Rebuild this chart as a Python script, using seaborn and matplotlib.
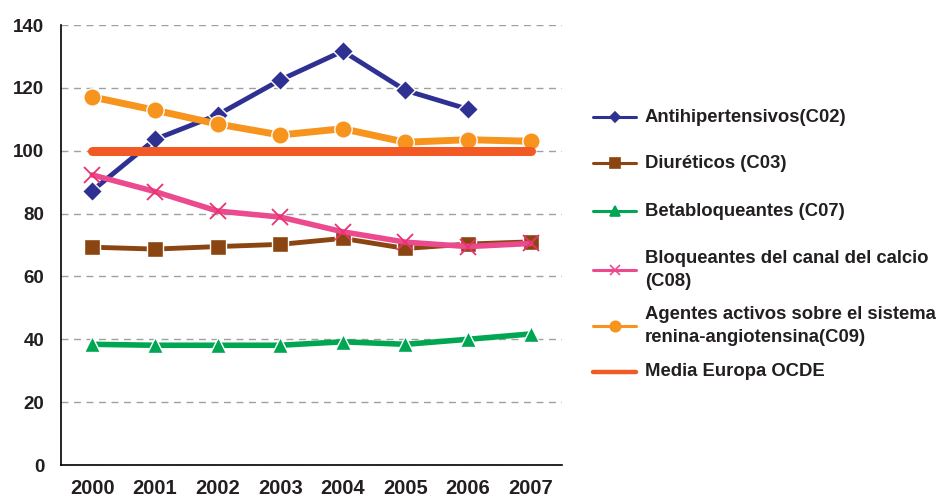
import numpy as np
import pandas as pd
import matplotlib
matplotlib.use("Agg")
import matplotlib.pyplot as plt
from matplotlib.lines import Line2D
import seaborn as sns

years = ["2000", "2001", "2002", "2003", "2004", "2005", "2006", "2007"]

antihipertensivos = [87.3, 103.6, 111.4, 122.5, 131.7, 119.2, 113.2, np.nan]
diureticos = [69.3, 68.7, 69.5, 70.2, 72.1, 68.9, 70.3, 71.0]
betabloqueantes = [38.4, 38.1, 38.1, 38.1, 39.2, 38.4, 40.0, 41.7]
bloq_calcio = [92.3, 87.0, 80.8, 78.9, 74.2, 70.9, 69.5, 70.5]
agentes_ras = [117.1, 112.9, 108.5, 105.0, 107.0, 102.7, 103.5, 103.0]
media_ocde = [100, 100, 100, 100, 100, 100, 100, 100]

labels = [
    "Antihipertensivos(C02)",
    "Diuréticos (C03)",
    "Betabloqueantes (C07)",
    "Bloqueantes del canal del calcio\n(C08)",
    "Agentes activos sobre el sistema\nrenina-angiotensina(C09)",
    "Media Europa OCDE",
]

sns.set_style("white")
plt.rcParams["font.family"] = ["Liberation Sans", "DejaVu Sans"]
plt.rcParams["font.weight"] = "bold"
TXT = "#231F20"

# color, marker, markersize, linewidth, marker edge, legend marker size
styles = [
    ("#2E3192", "D", 10, 3.5, "white", 5.5),
    ("#8B4510", "s", 12, 3.5, "white", 6.5),
    ("#00A651", "^", 11, 4, "white", 7),
    ("#EC4A8F", "x", 12, 4, "#E8336E", 7),
    ("#F7941D", "o", 12.5, 5, "white", 7.5),
    ("#F15A24", None, 0, 6.5, None, 0),
]
series = [antihipertensivos, diureticos, betabloqueantes, bloq_calcio,
          agentes_ras, media_ocde]

fig = plt.figure(figsize=(9.39, 4.98), dpi=100)
ax = fig.add_axes([61 / 939, 33 / 498, 501 / 939, 440 / 498])

xpos = np.arange(len(years))
for vals, (col, mk, ms, lw, mec, _) in zip(series, styles):
    df = pd.DataFrame({"x": xpos, "y": vals})
    kw = {}
    if mk is not None:
        kw = dict(marker=mk, markersize=ms, markeredgecolor=mec,
                  markeredgewidth=1 if mk != "x" else 1.3)
    sns.lineplot(data=df, x="x", y="y", ax=ax, color=col, linewidth=lw,
                 solid_capstyle="round", legend=False, **kw)

ax.set_xlim(-0.5, 7.5)
ax.set_ylim(0, 140)
ax.set_yticks(np.arange(0, 141, 20))
ax.set_xticks(xpos)
ax.set_xticklabels(years)
ax.set_xticks(np.arange(-0.5, 8, 1), minor=True)
ax.tick_params(axis="x", which="major", length=0, pad=10, labelsize=14.5,
               labelcolor=TXT)
ax.tick_params(axis="x", which="minor", length=6, width=1.2, direction="out",
               color="black")
ax.tick_params(axis="y", length=6, width=1.2, direction="out", color="black",
               labelsize=13.5, pad=6, labelcolor=TXT)
ax.set_xlabel("")
ax.set_ylabel("")
ax.yaxis.grid(True, linestyle=(0, (5, 4)), color="#A0A0A0", linewidth=1)
ax.set_axisbelow(True)
for s in ["top", "right"]:
    ax.spines[s].set_visible(False)
for s in ["left", "bottom"]:
    ax.spines[s].set_color("black")
    ax.spines[s].set_linewidth(1.2)

# legend drawn by hand to mimic the uneven spacing of the original
legend_y = [117, 163, 211, 270, 326, 372]
for (col, mk, ms, lw, mec, lms), lab, yp in zip(styles, labels, legend_y):
    yf = 1 - yp / 498
    fig.add_artist(Line2D([593 / 939, 636 / 939], [yf, yf],
                          transform=fig.transFigure, color=col,
                          linewidth=2.2 if mk else 3.2))
    if mk is not None:
        fig.add_artist(Line2D([614.5 / 939], [yf], transform=fig.transFigure,
                              color=col, marker=mk, markersize=lms,
                              markeredgecolor=col, markeredgewidth=1.2,
                              linestyle="none"))
    fig.text(645 / 939, yf, lab, ha="left", va="center", fontsize=13.3,
             color=TXT, linespacing=1.45)

fig.savefig("out.png", dpi=100)
